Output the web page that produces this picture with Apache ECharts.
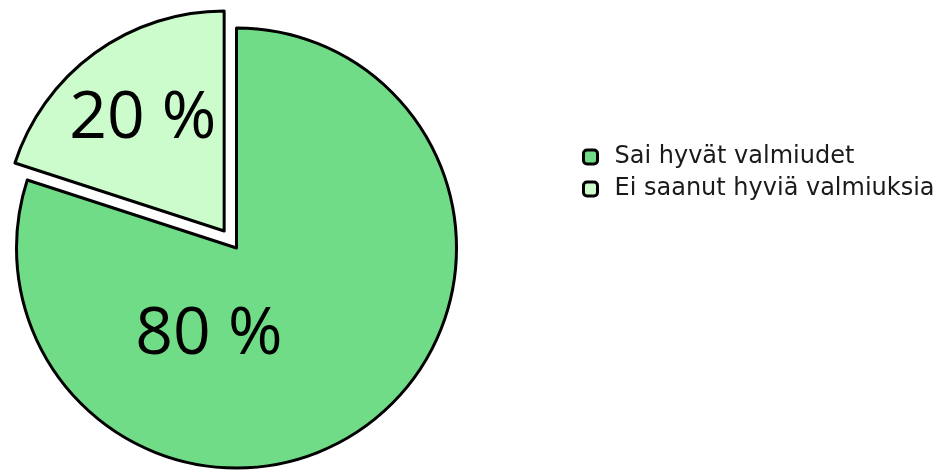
<!DOCTYPE html>
<html>
<head>
<meta charset="utf-8">
<script src="https://cdn.jsdelivr.net/npm/echarts@6/dist/echarts.min.js"></script>
<style>
  html, body { margin: 0; padding: 0; background: #ffffff; }
  #chart { width: 938px; height: 472px; }
</style>
</head>
<body>
<div id="chart"></div>
<script>
// Survey answer shares (percent)
const categories = ['Sai hyvät valmiudet', 'Ei saanut hyviä valmiuksia'];
const shares = [80, 20];
const sliceColors = ['#70dc87', '#ccfccc'];
const pulledOut = [false, true];
// shift of each percentage label from its default inside position
const labelShift = [[-94, -4], [-15, -20]];

const LABEL_FONT = '"Open Sans", sans-serif';
const LEGEND_FONT = '"DejaVu Sans", sans-serif';

const chart = echarts.init(document.getElementById('chart'), null, { renderer: 'canvas' });

const data = categories.map((name, i) => ({
  name: name,
  value: shares[i],
  selected: pulledOut[i],
  itemStyle: { color: sliceColors[i] }
}));

chart.setOption({
  animation: false,
  legend: {
    orient: 'vertical',
    left: 577,
    top: 140,
    itemWidth: 14,
    itemHeight: 14,
    itemGap: 8,
    icon: 'roundRect',
    itemStyle: { borderColor: '#000', borderWidth: 3 },
    textStyle: { fontFamily: LEGEND_FONT, fontSize: 24, lineHeight: 24, color: '#1a1a1a', padding: [0, 0, 0, 12] },
    selectedMode: false,
    data: categories
  },
  series: [{
    type: 'pie',
    center: [236.5, 248],
    radius: [0, 220],
    startAngle: 90,
    clockwise: true,
    selectedMode: 'multiple',
    selectedOffset: 21,
    avoidLabelOverlap: false,
    itemStyle: { borderColor: '#000', borderWidth: 3 },
    label: {
      show: true,
      position: 'inside',
      formatter: p => p.value + ' %',
      fontFamily: LABEL_FONT,
      fontSize: 66,
      color: '#000'
    },
    labelLayout: p => ({ dx: labelShift[p.dataIndex][0], dy: labelShift[p.dataIndex][1] }),
    labelLine: { show: false },
    emphasis: { disabled: true },
    data: data
  }]
});
</script>
</body>
</html>
